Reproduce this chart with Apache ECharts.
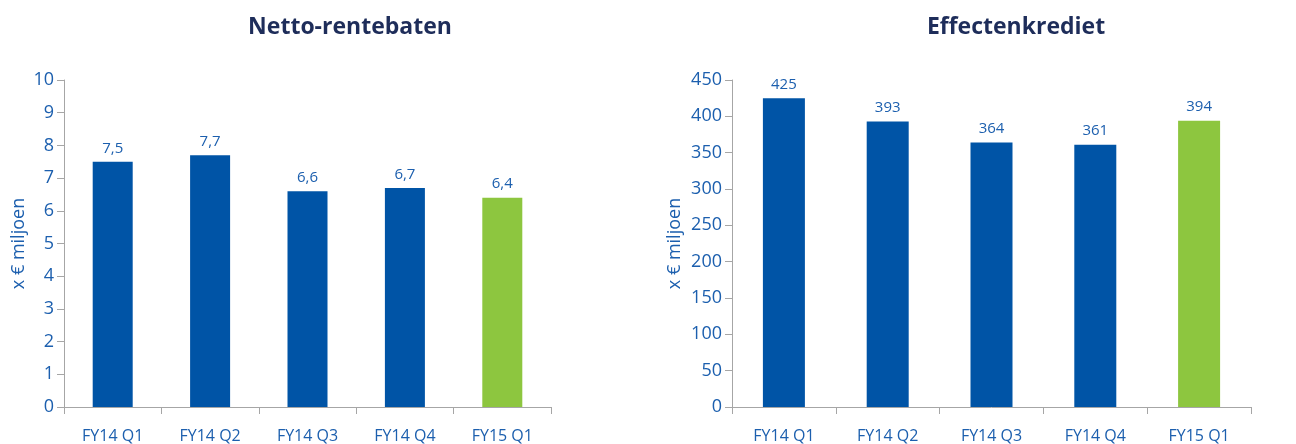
<!DOCTYPE html>
<html>
<head>
<meta charset="utf-8">
<script src="https://cdn.jsdelivr.net/npm/echarts@6/dist/echarts.min.js"></script>
<style>
  html, body { margin: 0; padding: 0; background: #fff; }
  #main { width: 1296px; height: 444px; }
</style>
</head>
<body>
<div id="main"></div>
<script>
const categories = ['FY14 Q1', 'FY14 Q2', 'FY14 Q3', 'FY14 Q4', 'FY15 Q1']
const rentebaten = [7.5, 7.7, 6.6, 6.7, 6.4]
const effectenkrediet = [425, 393, 364, 361, 394]

const BLUE = '#0054a6'
const GREEN = '#8dc63f'
const TEXT = '#1c5fae'
const AXIS = '#a6a6a6'
const FONT = '"Open Sans", sans-serif'

// laatste kwartaal groen, de rest blauw
const colored = (arr) => arr.map((v, i) => ({
  value: v,
  itemStyle: { color: i === arr.length - 1 ? GREEN : BLUE }
}))

const xAxisBase = (gridIndex) => ({
  type: 'category',
  gridIndex,
  data: categories,
  axisLine: { lineStyle: { color: AXIS, width: 1 } },
  axisTick: { show: true, length: 7, lineStyle: { color: AXIS } },
  axisLabel: { color: TEXT, fontSize: 16, fontFamily: FONT, margin: 21 }
})

const yAxisBase = (gridIndex, max, interval, nameGap) => ({
  type: 'value',
  gridIndex,
  min: 0,
  max,
  interval,
  name: 'x € miljoen',
  nameLocation: 'middle',
  nameGap,
  nameTextStyle: { color: TEXT, fontSize: 18, fontFamily: FONT },
  axisLine: { show: true, lineStyle: { color: AXIS } },
  axisTick: { show: true, length: 7, lineStyle: { color: AXIS } },
  axisLabel: { color: TEXT, fontSize: 18, fontFamily: FONT, margin: 10 },
  splitLine: { show: false }
})

const chart = echarts.init(document.getElementById('main'))
chart.setOption({
  animation: false,
  title: [
    { text: 'Netto-rentebaten', left: 345, top: 11, textAlign: 'center',
      textStyle: { color: '#1e2d5a', fontSize: 23, fontWeight: 'bold', fontFamily: FONT } },
    { text: 'Effectenkrediet', left: 1011, top: 11, textAlign: 'center',
      textStyle: { color: '#1e2d5a', fontSize: 23, fontWeight: 'bold', fontFamily: FONT } }
  ],
  grid: [
    { left: 64, right: 745, top: 80, bottom: 36 },
    { left: 732, right: 45, top: 80, bottom: 35 }
  ],
  xAxis: [xAxisBase(0), xAxisBase(1)],
  yAxis: [yAxisBase(0, 10, 1, 36), yAxisBase(1, 450, 50, 48)],
  series: [
    {
      type: 'bar',
      xAxisIndex: 0,
      yAxisIndex: 0,
      barWidth: 40,
      data: colored(rentebaten),
      label: {
        show: true, position: 'top', distance: 6,
        color: TEXT, fontSize: 15, fontFamily: FONT,
        formatter: (p) => p.value.toFixed(1).replace('.', ',')
      }
    },
    {
      type: 'bar',
      xAxisIndex: 1,
      yAxisIndex: 1,
      barWidth: 42,
      data: colored(effectenkrediet),
      label: {
        show: true, position: 'top', distance: 6,
        color: TEXT, fontSize: 15, fontFamily: FONT
      }
    }
  ]
})
</script>
</body>
</html>
